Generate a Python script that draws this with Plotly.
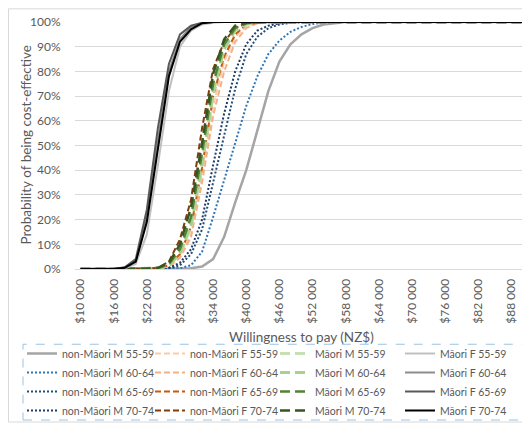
import plotly.graph_objects as go

wtp = [10000, 12000, 14000, 16000, 18000, 20000, 22000, 24000, 26000, 28000,
       30000, 32000, 34000, 36000, 38000, 40000, 42000, 44000, 46000, 48000,
       50000, 52000, 54000, 56000, 58000, 60000, 62000, 64000, 66000, 68000,
       70000, 72000, 74000, 76000, 78000, 80000, 82000, 84000, 86000, 88000, 90000]

tick_vals = [10000, 16000, 22000, 28000, 34000, 40000, 46000, 52000, 58000,
             64000, 70000, 76000, 82000, 88000]
tick_text = ["$10 000", "$16 000", "$22 000", "$28 000", "$34 000", "$40 000",
             "$46 000", "$52 000", "$58 000", "$64 000", "$70 000", "$76 000",
             "$82 000", "$88 000"]
y_ticks = [0, 10, 20, 30, 40, 50, 60, 70, 80, 90, 100]
y_text = ["0%", "10%", "20%", "30%", "40%", "50%", "60%", "70%", "80%", "90%", "100%"]

x_title = "Willingness to pay (NZ$)"
y_title = "Probability of being cost-effective"

# probability of being cost-effective (%)
nm_m_55 = [0, 0, 0, 0, 0, 0, 0, 0, 0, 0, 0.3, 1, 4, 13, 27, 40, 56, 72, 84, 91, 95, 97.5, 99, 99.6,
           100, 100, 100, 100, 100, 100, 100, 100, 100, 100, 100, 100, 100, 100, 100, 100, 100]
nm_m_60 = [0, 0, 0, 0, 0, 0, 0, 0, 0, 0.3, 1.5, 7, 21, 36, 52, 66, 78, 87, 92.5, 96, 98, 99.2, 99.7,
           100, 100, 100, 100, 100, 100, 100, 100, 100, 100, 100, 100, 100, 100, 100, 100, 100, 100]
nm_m_65 = [0, 0, 0, 0, 0, 0, 0, 0, 0.3, 1.5, 6, 16, 35, 54, 73, 87, 94, 97.5, 99, 99.7,
           100, 100, 100, 100, 100, 100, 100, 100, 100, 100, 100, 100, 100, 100, 100, 100, 100, 100, 100, 100, 100]
nm_m_70 = [0, 0, 0, 0, 0, 0, 0, 0, 0.5, 2.5, 8, 20, 42, 63, 80, 91, 96.5, 98.5, 99.5,
           100, 100, 100, 100, 100, 100, 100, 100, 100, 100, 100, 100, 100, 100, 100, 100, 100, 100, 100, 100, 100, 100]

nm_f_55 = [0, 0, 0, 0, 0, 0, 0, 0.2, 1, 5, 14, 38, 66, 84, 94, 98.5, 99.6,
           100, 100, 100, 100, 100, 100, 100, 100, 100, 100, 100, 100, 100, 100, 100, 100, 100, 100, 100, 100, 100, 100, 100, 100]
nm_f_60 = [0, 0, 0, 0, 0, 0, 0, 0.2, 1, 4.5, 13, 35, 62, 80, 92, 97.5, 99.5,
           100, 100, 100, 100, 100, 100, 100, 100, 100, 100, 100, 100, 100, 100, 100, 100, 100, 100, 100, 100, 100, 100, 100, 100]
nm_f_65 = [0, 0, 0, 0, 0, 0, 0, 0.3, 1.5, 6, 17, 41, 70, 86, 95, 99, 99.7,
           100, 100, 100, 100, 100, 100, 100, 100, 100, 100, 100, 100, 100, 100, 100, 100, 100, 100, 100, 100, 100, 100, 100, 100]
nm_f_70 = [0, 0, 0, 0, 0, 0, 0, 0.5, 3, 12, 28, 57, 81, 92, 97.5, 99.5,
           100, 100, 100, 100, 100, 100, 100, 100, 100, 100, 100, 100, 100, 100, 100, 100, 100, 100, 100, 100, 100, 100, 100, 100, 100]

m_m_55 = [0, 0, 0, 0, 0, 0, 0, 0.3, 1.5, 6, 17, 42, 71, 89, 96.5, 99, 99.7,
          100, 100, 100, 100, 100, 100, 100, 100, 100, 100, 100, 100, 100, 100, 100, 100, 100, 100, 100, 100, 100, 100, 100, 100]
m_m_60 = [0, 0, 0, 0, 0, 0, 0, 0.3, 1.5, 6.5, 18, 43, 72, 89, 97, 99.3,
          100, 100, 100, 100, 100, 100, 100, 100, 100, 100, 100, 100, 100, 100, 100, 100, 100, 100, 100, 100, 100, 100, 100, 100, 100]
m_m_65 = [0, 0, 0, 0, 0, 0, 0, 0.3, 2, 8, 21, 47, 75, 91, 97.5, 99.5,
          100, 100, 100, 100, 100, 100, 100, 100, 100, 100, 100, 100, 100, 100, 100, 100, 100, 100, 100, 100, 100, 100, 100, 100, 100]
m_m_70 = [0, 0, 0, 0, 0, 0, 0, 0.5, 2.5, 10, 25, 51, 79, 93, 98.5, 99.7,
          100, 100, 100, 100, 100, 100, 100, 100, 100, 100, 100, 100, 100, 100, 100, 100, 100, 100, 100, 100, 100, 100, 100, 100, 100]

m_f_55 = [0, 0, 0, 0, 0.3, 2, 14, 42, 72, 90, 96.5, 99, 99.7,
          100, 100, 100, 100, 100, 100, 100, 100, 100, 100, 100, 100, 100, 100, 100, 100, 100, 100, 100, 100, 100, 100, 100, 100, 100, 100, 100, 100]
m_f_60 = [0, 0, 0, 0, 0.5, 3, 21, 52, 80, 93, 98, 99.5,
          100, 100, 100, 100, 100, 100, 100, 100, 100, 100, 100, 100, 100, 100, 100, 100, 100, 100, 100, 100, 100, 100, 100, 100, 100, 100, 100, 100, 100]
m_f_65 = [0, 0, 0, 0, 0.7, 4, 24, 57, 83, 95, 98.5, 99.7,
          100, 100, 100, 100, 100, 100, 100, 100, 100, 100, 100, 100, 100, 100, 100, 100, 100, 100, 100, 100, 100, 100, 100, 100, 100, 100, 100, 100, 100]
m_f_70 = [0, 0, 0, 0, 0.5, 3, 19, 48, 78, 92, 97, 99.5,
          100, 100, 100, 100, 100, 100, 100, 100, 100, 100, 100, 100, 100, 100, 100, 100, 100, 100, 100, 100, 100, 100, 100, 100, 100, 100, 100, 100, 100]

series = [
    ("non-Māori M 55-59", nm_m_55, "#a5a5a5", "solid", 2.5, "legend"),
    ("non-Māori M 60-64", nm_m_60, "#2e75b6", "2px,2px", 2, "legend"),
    ("non-Māori M 65-69", nm_m_65, "#1f4e79", "2px,2px", 2, "legend"),
    ("non-Māori M 70-74", nm_m_70, "#203864", "2px,2px", 2, "legend"),
    ("non-Māori F 55-59", nm_f_55, "#f8cbad", "6px,3px", 2, "legend2"),
    ("non-Māori F 60-64", nm_f_60, "#f4b183", "6px,3px", 2, "legend2"),
    ("non-Māori F 65-69", nm_f_65, "#c55a11", "6px,3px", 2, "legend2"),
    ("non-Māori F 70-74", nm_f_70, "#843c0c", "6px,3px", 2, "legend2"),
    ("Māori M 55-59", m_m_55, "#c5e0b4", "10px,5px", 3, "legend3"),
    ("Māori M 60-64", m_m_60, "#a9d18e", "10px,5px", 3, "legend3"),
    ("Māori M 65-69", m_m_65, "#548235", "10px,5px", 2.5, "legend3"),
    ("Māori M 70-74", m_m_70, "#375623", "10px,5px", 2.5, "legend3"),
    ("Māori F 55-59", m_f_55, "#c0c0c0", "solid", 2, "legend4"),
    ("Māori F 60-64", m_f_60, "#8c8c8c", "solid", 2, "legend4"),
    ("Māori F 65-69", m_f_65, "#595959", "solid", 2, "legend4"),
    ("Māori F 70-74", m_f_70, "#000000", "solid", 2, "legend4"),
]

FONT = "Lato"
TXT = "#595959"

fig = go.Figure()
for name, vals, color, dash, width, leg in series:
    fig.add_trace(go.Scatter(
        x=wtp, y=vals, mode="lines", name=name,
        line=dict(color=color, dash=dash, width=width),
        legend=leg,
    ))

# The page has an 8px body margin, so figure coordinates = window coordinates - 8.
W, H = 522, 417
L, R, T, B = 67, 2, 13.7, 155.5
pw = W - L - R
ph = H - T - B


def px_x(p):
    return (p - L) / pw


def px_y(p):
    return (H - B - p) / ph


def cx(p):
    return p / W


def cy(p):
    return 1 - p / H


leg_common = dict(font=dict(family=FONT, size=10.5, color=TXT), bgcolor="rgba(0,0,0,0)",
                  xref="container", yref="container",
                  xanchor="left", yanchor="top", orientation="v", tracegroupgap=0)
leg_y = cy(331)

fig.update_layout(
    width=W, height=H,
    margin=dict(l=L, r=R, t=T, b=B, autoexpand=False),
    paper_bgcolor="white", plot_bgcolor="white",
    font=dict(family=FONT, color=TXT),
    showlegend=True,
    legend=dict(x=cx(14), y=leg_y, **leg_common),
    legend2=dict(x=cx(142), y=leg_y, **leg_common),
    legend3=dict(x=cx(267), y=leg_y, **leg_common),
    legend4=dict(x=cx(392), y=leg_y, **leg_common),
    xaxis=dict(
        range=[9000, 91000], tickvals=tick_vals, ticktext=tick_text,
        tickangle=-90, showgrid=False, zeroline=False, showline=False,
        ticks="outside", ticklen=4, tickcolor="rgba(0,0,0,0)",
        tickfont=dict(family=FONT, size=12, color=TXT),
    ),
    yaxis=dict(
        range=[0, 100], tickvals=y_ticks, ticktext=y_text,
        showgrid=True, gridcolor="#d9d9d9", gridwidth=1,
        zeroline=True, zerolinecolor="#d9d9d9", zerolinewidth=1, showline=False,
        ticks="outside", ticklen=11, tickcolor="rgba(0,0,0,0)",
        tickfont=dict(family=FONT, size=12, color=TXT),
    ),
    annotations=[
        dict(text=x_title, xref="paper", yref="paper", x=0.5, y=px_y(330),
             xanchor="center", yanchor="middle", showarrow=False,
             font=dict(family=FONT, size=13.5, color=TXT)),
        dict(text=y_title, xref="paper", yref="paper", x=px_x(17), y=0.5,
             xanchor="center", yanchor="middle", showarrow=False, textangle=-90,
             font=dict(family=FONT, size=13.5, color=TXT)),
    ],
    shapes=[
        dict(type="rect", xref="paper", yref="paper",
             x0=px_x(0.5), x1=px_x(540), y0=px_y(415), y1=px_y(0.5),
             line=dict(color="#d9d9d9", width=1), layer="below"),
        dict(type="rect", xref="paper", yref="paper",
             x0=px_x(15), x1=px_x(519), y0=px_y(413), y1=px_y(337),
             line=dict(color="#9dc3e6", width=1, dash="dash")),
    ],
)

fig.write_html("out.html")
